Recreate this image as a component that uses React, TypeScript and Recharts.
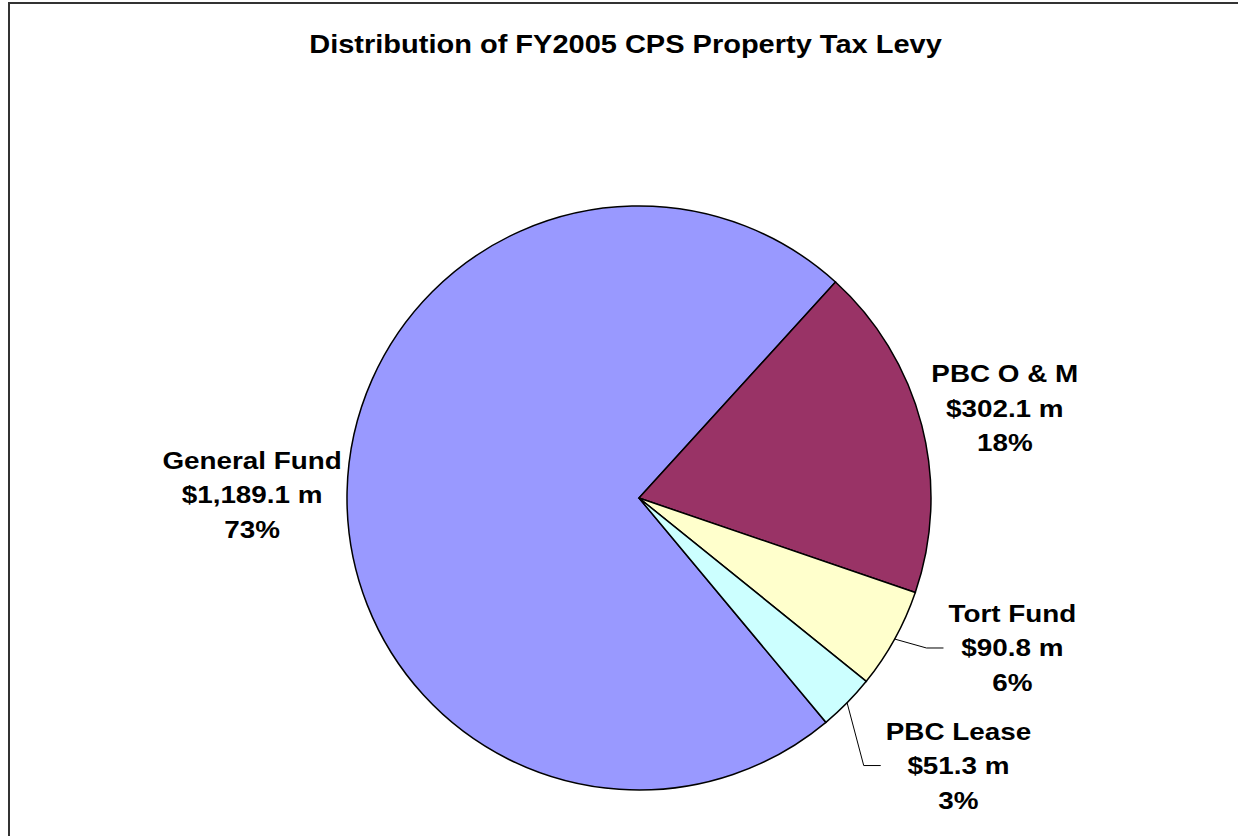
import React from 'react';
import { PieChart, Pie, Cell } from 'recharts';

const categories = ['General Fund', 'PBC O & M', 'Tort Fund', 'PBC Lease'];
const levyMillions = [1189.1, 302.1, 90.8, 51.3];
const sliceColors = ['#9999FF', '#993366', '#FFFFCC', '#CCFFFF'];
const leaderLabels = ['Tort Fund', 'PBC Lease'];

const W = 1238;
const H = 836;
const CX = 639;
const CY = 498;
const R = 292;
const FONT = 'Arial, "Liberation Sans", sans-serif';
const STRETCH = 1.16;

// label placement: radius factor + angle nudge (degrees) off the slice mid angle
const labelLayout: Record<string, { rf: number; da: number }> = {
  'General Fund': { rf: 1.325, da: 0.8 },
  'PBC O & M': { rf: 1.29, da: -0.6 },
  'Tort Fund': { rf: 1.378, da: 7 },
  'PBC Lease': { rf: 1.427, da: 4.6 },
};

const data = categories.map((name, i) => ({ name, value: levyMillions[i] }));

const RAD = Math.PI / 180;

let measureCtx: CanvasRenderingContext2D | null = null;
const textWidth = (s: string) => {
  if (!measureCtx) measureCtx = document.createElement('canvas').getContext('2d');
  if (!measureCtx) return s.length * 15;
  measureCtx.font = `bold 24px ${FONT}`;
  return measureCtx.measureText(s).width * STRETCH;
};

const StretchText = ({ x, y, children, size = 24 }: any) => (
  <text
    transform={`translate(${x},${y}) scale(${STRETCH},1)`}
    textAnchor="middle"
    fontFamily={FONT}
    fontWeight="bold"
    fontSize={size}
    fill="#000"
  >
    {children}
  </text>
);

const renderLabel = (props: any) => {
  const { cx, cy, midAngle, outerRadius, name, value, percent } = props;
  const lay = labelLayout[name] || { rf: 1.3, da: 0 };
  const a = (midAngle + lay.da) * RAD;
  const lx = cx + outerRadius * lay.rf * Math.cos(a);
  const ly = cy - outerRadius * lay.rf * Math.sin(a);
  const lines = [
    name,
    `$${value.toLocaleString('en-US', { minimumFractionDigits: 1, maximumFractionDigits: 1 })} m`,
    `${Math.round(percent * 100)}%`,
  ];
  const gap = 34.5;
  let leader = null;
  if (leaderLabels.includes(name)) {
    const m = midAngle * RAD;
    const sx = cx + outerRadius * Math.cos(m);
    const sy = cy - outerRadius * Math.sin(m);
    const boxLeft = lx - Math.max(...lines.map(textWidth)) / 2;
    const ex = boxLeft - 5;
    const ey = ly;
    leader = (
      <polyline
        points={`${sx},${sy} ${ex - 17},${ey} ${ex},${ey}`}
        fill="none"
        stroke="#000"
        strokeWidth={1}
      />
    );
  }
  return (
    <g key={`lbl-${name}`}>
      {leader}
      {lines.map((t, i) => (
        <StretchText key={i} x={lx} y={ly + (i - 1) * gap + 8.5}>
          {t}
        </StretchText>
      ))}
    </g>
  );
};

export default function App() {
  return (
    <div style={{ position: 'absolute', left: 0, top: 0, width: W, height: H, background: '#fff', overflow: 'hidden' }}>
      <PieChart width={W} height={H} margin={{ top: 0, right: 0, bottom: 0, left: 0 }}>
        <Pie
          data={data}
          dataKey="value"
          nameKey="name"
          cx={CX}
          cy={CY}
          outerRadius={R}
          startAngle={-50.2}
          endAngle={-410.2}
          stroke="#000"
          strokeWidth={1.5}
          label={renderLabel}
          labelLine={false}
          isAnimationActive={false}
        >
          {data.map((d, i) => (
            <Cell key={d.name} fill={sliceColors[i]} />
          ))}
        </Pie>
      </PieChart>
      <svg width={W} height={H} style={{ position: 'absolute', left: 0, top: 0, pointerEvents: 'none' }}>
        <rect x={9} y={3} width={W + 50} height={H + 50} fill="none" stroke="#333" strokeWidth={2} />
        <StretchText x={625.5} y={53} size={25}>
          Distribution of FY2005 CPS Property Tax Levy
        </StretchText>
      </svg>
    </div>
  );
}
